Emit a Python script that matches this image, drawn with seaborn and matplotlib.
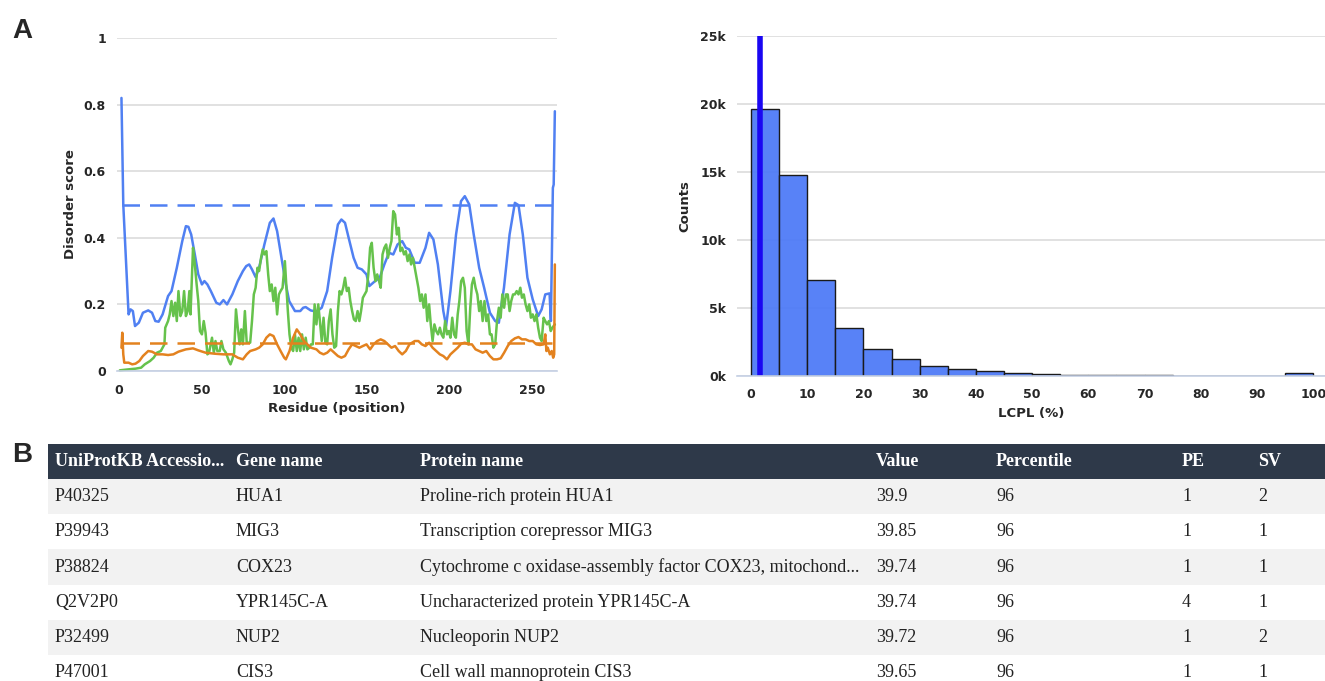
import matplotlib
matplotlib.use("Agg")
import matplotlib.pyplot as plt
import seaborn as sns
import pandas as pd

# --- Panel A, left: disorder profile (residue, score) ---
blue_res = [1.5, 2.6, 5.8, 7, 8.4, 9.7, 12, 14.5, 17.7, 20, 22, 24, 26.4, 29.7, 31.8, 35, 38.3, 40.5, 42,
            43.7, 45.9, 48, 50.2, 51.7, 53.5, 55.6, 58.9, 61, 63.2, 65.4, 68.6, 71.9, 75, 77, 78.8, 80.5,
            82.7, 84.8, 88, 91.3, 93.5, 95.7, 99, 101, 103, 106.5, 109.7, 111.5, 113, 116, 119.5, 122.7,
            126, 129, 132.5, 134.6, 136.8, 139, 142, 144.4, 147, 149.8, 151.5, 155, 157.8, 160.6, 163.4,
            166, 168.6, 171.4, 173.6, 175.7, 179, 182, 185.5, 187.7, 190.3, 193, 196.3, 198, 200.6, 204,
            207, 209.3, 212, 214.7, 218, 221, 224.5, 227.7, 229.9, 233, 236.4, 239.6, 241.8, 244.4,
            247.2, 250.4, 253.7, 255.8, 258, 260.6, 261.4, 262.6, 263.1, 263.8]
blue_score = [0.82, 0.50, 0.17, 0.185, 0.18, 0.135, 0.145, 0.175, 0.182, 0.175, 0.15, 0.148, 0.17, 0.225,
              0.24, 0.31, 0.39, 0.435, 0.433, 0.41, 0.35, 0.29, 0.26, 0.27, 0.26, 0.24, 0.205, 0.20, 0.213,
              0.20, 0.23, 0.27, 0.30, 0.315, 0.32, 0.305, 0.282, 0.31, 0.38, 0.445, 0.458, 0.42, 0.32, 0.26,
              0.21, 0.18, 0.18, 0.19, 0.192, 0.182, 0.178, 0.19, 0.24, 0.34, 0.44, 0.455, 0.445, 0.40, 0.34,
              0.31, 0.305, 0.29, 0.255, 0.27, 0.28, 0.32, 0.355, 0.35, 0.38, 0.39, 0.37, 0.365, 0.325, 0.325,
              0.37, 0.415, 0.395, 0.32, 0.18, 0.135, 0.24, 0.41, 0.51, 0.525, 0.50, 0.41, 0.31, 0.25, 0.175,
              0.15, 0.145, 0.25, 0.41, 0.505, 0.498, 0.41, 0.28, 0.215, 0.165, 0.185, 0.23, 0.233, 0.15,
              0.55, 0.56, 0.78]

green_res = [0.5, 5.8, 10, 13.4, 15.6, 18.8, 21, 23, 25.3, 27.5, 28, 29.7, 30.7, 31.8, 32.9, 34, 35, 36,
             37.2, 38.3, 39.4, 40.5, 41.6, 42.6, 43.3, 44.8, 45.9, 47, 48, 49, 50.2, 51.3, 52.4, 53.5, 54.5,
             56.3, 57.4, 58.4, 59.5, 61, 62, 63.2, 64.7, 66.5, 67.5, 68.6, 69.7, 70.8, 71.9, 73, 74, 75, 76.2,
             77.3, 79.4, 80.5, 81.6, 82.7, 83.8, 84.8, 86, 87, 88, 89.2, 90.3, 91.3, 92.4, 93.5, 94.6, 95.7,
             96.8, 97.8, 99, 100.4, 101, 102.2, 103.2, 104.3, 105.4, 106.5, 107.6, 108.7, 109.7, 110.8,
             111.9, 113, 114, 115.2, 116.2, 117.3, 118.4, 119.5, 120.6, 121.6, 122.7, 123.8, 124.9, 126,
             127, 128.1, 129.2, 130.3, 131.4, 132.5, 133.5, 134.6, 135.7, 136.8, 137.9, 139, 140, 141.1,
             142.2, 143.3, 144.4, 145.5, 146.5, 147.6, 148.7, 149.8, 150.9, 152, 153, 154.1, 155.2, 156.3,
             157.4, 158.4, 159.5, 160.6, 161.7, 162.8, 163.9, 164.9, 166, 167.1, 168.2, 169.3, 170.3, 171.4,
             172.5, 173.6, 174.7, 175.8, 176.8, 177.9, 179, 180.1, 181.2, 182.3, 183.3, 184.4, 185.5, 186.6,
             187.7, 188.7, 189.8, 190.9, 192, 193.1, 194.2, 195.2, 196.3, 197.4, 198.5, 199.6, 200.6, 201.7,
             202.8, 203.9, 205, 206, 207.1, 208.2, 209.3, 210.4, 211.5, 212.6, 213.6, 214.7, 215.8, 216.9,
             218, 219, 220.1, 221.2, 222.3, 223.4, 224.5, 225.5, 226.6, 227.7, 228.8, 229.9, 231, 232,
             233.1, 234.2, 235.3, 236.4, 237.4, 238.5, 239.6, 240.7, 241.8, 242.9, 243.9, 245, 246.1,
             247.2, 248.3, 249.3, 250.4, 251.5, 252.6, 253.7, 254.8, 255.8, 257, 258, 259.1, 260.2, 261.3,
             262.3, 263.8]
green_score = [0.002, 0.005, 0.007, 0.01, 0.02, 0.03, 0.04, 0.055, 0.06, 0.08, 0.13, 0.15, 0.17, 0.21, 0.165,
               0.205, 0.15, 0.24, 0.165, 0.18, 0.24, 0.165, 0.18, 0.24, 0.17, 0.37, 0.32, 0.26, 0.21, 0.12,
               0.11, 0.15, 0.115, 0.05, 0.055, 0.10, 0.055, 0.09, 0.06, 0.06, 0.09, 0.065, 0.055, 0.03, 0.02,
               0.035, 0.055, 0.185, 0.13, 0.08, 0.125, 0.08, 0.18, 0.085, 0.085, 0.15, 0.23, 0.25, 0.31, 0.30,
               0.34, 0.365, 0.35, 0.36, 0.29, 0.24, 0.26, 0.21, 0.25, 0.17, 0.23, 0.24, 0.25, 0.33, 0.28,
               0.18, 0.11, 0.07, 0.06, 0.11, 0.06, 0.10, 0.06, 0.11, 0.065, 0.10, 0.065, 0.07, 0.08, 0.08,
               0.20, 0.14, 0.20, 0.15, 0.09, 0.16, 0.085, 0.08, 0.15, 0.185, 0.11, 0.07, 0.075, 0.18, 0.24,
               0.23, 0.25, 0.28, 0.24, 0.25, 0.21, 0.18, 0.155, 0.15, 0.18, 0.15, 0.18, 0.22, 0.23, 0.24,
               0.29, 0.37, 0.385, 0.31, 0.27, 0.29, 0.27, 0.25, 0.35, 0.37, 0.38, 0.34, 0.37, 0.39, 0.48,
               0.47, 0.41, 0.43, 0.36, 0.37, 0.35, 0.36, 0.33, 0.35, 0.32, 0.34, 0.31, 0.28, 0.25, 0.21,
               0.23, 0.19, 0.23, 0.15, 0.20, 0.14, 0.09, 0.14, 0.12, 0.11, 0.13, 0.11, 0.10, 0.15, 0.11,
               0.12, 0.10, 0.16, 0.11, 0.10, 0.17, 0.21, 0.27, 0.28, 0.25, 0.12, 0.08, 0.19, 0.26, 0.28,
               0.25, 0.23, 0.18, 0.21, 0.15, 0.21, 0.15, 0.17, 0.11, 0.11, 0.07, 0.08, 0.15, 0.19, 0.16,
               0.23, 0.19, 0.23, 0.23, 0.18, 0.21, 0.23, 0.23, 0.24, 0.23, 0.25, 0.22, 0.23, 0.20, 0.18,
               0.20, 0.16, 0.17, 0.15, 0.17, 0.13, 0.10, 0.09, 0.16, 0.15, 0.14, 0.15, 0.12, 0.13, 0.14]

orange_res = [1.5, 2, 2.6, 3.2, 5.8, 8, 10, 12.3, 14.5, 17.7, 20, 23, 26.4, 29.7, 32.9, 36, 40.5, 44.8, 48,
              52.4, 57.8, 63.2, 68.6, 71.9, 75, 77.3, 79.4, 82.7, 84.8, 87, 89.2, 91.3, 93.5, 95.7, 97.8,
              100, 101, 103.2, 105.4, 107.6, 109.7, 111.9, 114, 116.2, 119.5, 121.6, 123.8, 126, 128.1,
              130.3, 132.5, 134.6, 136.8, 139, 141.1, 143.3, 145.5, 147.6, 149.8, 152, 154.1, 156.3, 158.4,
              160.6, 162.8, 164.9, 167.1, 169.3, 171.4, 173.6, 175.8, 179, 181.2, 183.3, 185.5, 187.7,
              189.8, 192, 194.2, 196.3, 198.5, 200.6, 202.8, 205, 207.1, 209.3, 211.5, 213.6, 215.8, 218,
              220.1, 222.3, 224.5, 226.6, 228.8, 231, 233.1, 235.3, 237.4, 239.6, 241.8, 243.9, 246.1,
              248.3, 250.4, 252.6, 254.8, 257, 258, 258.7, 259.5, 260.8, 261.9, 262.8, 263.4, 263.8]
orange_score = [0.07, 0.115, 0.05, 0.025, 0.025, 0.02, 0.022, 0.03, 0.045, 0.06, 0.058, 0.05, 0.05, 0.048,
                0.05, 0.058, 0.065, 0.068, 0.062, 0.055, 0.052, 0.05, 0.05, 0.04, 0.035, 0.05, 0.06, 0.065,
                0.07, 0.08, 0.10, 0.11, 0.105, 0.08, 0.06, 0.04, 0.035, 0.06, 0.10, 0.125, 0.11, 0.09, 0.08,
                0.07, 0.065, 0.055, 0.05, 0.055, 0.065, 0.055, 0.045, 0.04, 0.045, 0.065, 0.08, 0.075, 0.07,
                0.075, 0.08, 0.065, 0.08, 0.09, 0.095, 0.09, 0.08, 0.07, 0.075, 0.06, 0.05, 0.06, 0.08, 0.09,
                0.09, 0.08, 0.075, 0.085, 0.07, 0.06, 0.05, 0.045, 0.035, 0.05, 0.06, 0.07, 0.082, 0.085,
                0.08, 0.08, 0.065, 0.06, 0.055, 0.06, 0.045, 0.035, 0.035, 0.038, 0.055, 0.075, 0.09, 0.098,
                0.102, 0.095, 0.095, 0.09, 0.09, 0.08, 0.078, 0.08, 0.11, 0.06, 0.07, 0.05, 0.06, 0.04, 0.05,
                0.32]

blue_cutoff = 0.50
orange_cutoff = 0.085
cutoff_span = [2, 264]

# --- Panel A, right: LCPL histogram ---
lcpl_edges = [0, 5, 10, 15, 20, 25, 30, 35, 40, 45, 50, 55, 60, 65, 70, 75, 80, 85, 90, 95, 100]
lcpl_counts = [19600, 14750, 7050, 3550, 2000, 1250, 750, 500, 350, 250, 180, 100, 100, 100, 100,
               0, 0, 0, 0, 250]
query_lcpl = 1.6

# --- Panel B: table ---
headers = ["UniProtKB Accessio...", "Gene name", "Protein name", "Value", "Percentile", "PE", "SV"]
accessions = ["P40325", "P39943", "P38824", "Q2V2P0", "P32499", "P47001"]
genes = ["HUA1", "MIG3", "COX23", "YPR145C-A", "NUP2", "CIS3"]
proteins = ["Proline-rich protein HUA1", "Transcription corepressor MIG3",
            "Cytochrome c oxidase-assembly factor COX23, mitochond...",
            "Uncharacterized protein YPR145C-A", "Nucleoporin NUP2", "Cell wall mannoprotein CIS3"]
values = ["39.9", "39.85", "39.74", "39.74", "39.72", "39.65"]
percentiles = ["96", "96", "96", "96", "96", "96"]
pe = ["1", "1", "1", "4", "1", "1"]
sv = ["2", "1", "1", "1", "2", "1"]

BLUE = "#5080f2"
GREEN = "#66c24c"
ORANGE = "#e3821f"
GRID = "#dcdcdc"
AXIS = "#c5d0e4"

sns.set_theme(style="white")
plt.rcParams["font.family"] = ["DejaVu Sans"]

W, H = 1325, 681
fig = plt.figure(figsize=(W / 100, H / 100), dpi=100)


def px_axes(left, top, right, bottom):
    return fig.add_axes([left / W, 1 - bottom / H, (right - left) / W, (bottom - top) / H])


def style_axes(ax):
    for s in ["top", "right", "left"]:
        ax.spines[s].set_visible(False)
    ax.spines["bottom"].set_color(AXIS)
    ax.spines["bottom"].set_linewidth(1.2)
    ax.yaxis.grid(True, color=GRID, linewidth=1.2)
    ax.xaxis.grid(False)
    ax.set_axisbelow(True)
    ax.tick_params(axis="x", direction="out", length=6, width=1.2, color=AXIS, pad=3,
                   labelsize=9)
    ax.tick_params(axis="y", length=0, pad=8, labelsize=9)
    for lab in ax.get_xticklabels() + ax.get_yticklabels():
        lab.set_fontweight("bold")


# left line chart
ax1 = px_axes(117, 38, 557, 371)
lw = 1.8
sns.lineplot(x=blue_res, y=blue_score, color=BLUE, lw=lw, ax=ax1, estimator=None, sort=False)
sns.lineplot(x=green_res, y=green_score, color=GREEN, lw=lw, ax=ax1, estimator=None, sort=False)
sns.lineplot(x=orange_res, y=orange_score, color=ORANGE, lw=lw, ax=ax1, estimator=None, sort=False)
ax1.plot(cutoff_span, [blue_cutoff] * 2, color=BLUE, lw=1.8, dashes=(7, 4))
ax1.plot(cutoff_span, [orange_cutoff] * 2, color=ORANGE, lw=1.8, dashes=(7, 4))
for ln in ax1.lines:
    ln.set_clip_on(False)
ax1.set_xlim(-1.2, 265.1)
ax1.set_ylim(0, 1)
ax1.set_xticks([0, 50, 100, 150, 200, 250])
ax1.set_yticks([0, 0.2, 0.4, 0.6, 0.8, 1])
ax1.set_yticklabels(["0", "0.2", "0.4", "0.6", "0.8", "1"])
style_axes(ax1)
ax1.set_xlabel("Residue (position)", fontsize=9.5, fontweight="bold", labelpad=4)
ax1.set_ylabel("Disorder score", fontsize=9.5, fontweight="bold", labelpad=5)

# right histogram
ax2 = px_axes(737, 36, 1325, 376)
centers = [(a + b) / 2 for a, b in zip(lcpl_edges[:-1], lcpl_edges[1:])]
hist_df = pd.DataFrame({"lcpl": centers, "count": lcpl_counts})
sns.histplot(data=hist_df, x="lcpl", weights="count", bins=lcpl_edges, color="#4f7bf7",
             alpha=0.95, edgecolor="#1a1a1a", linewidth=1.0, ax=ax2)
ax2.axvline(query_lcpl, color="#1a06f2", lw=4, ymax=1)
ax2.set_xlim(-2.5, 102.1)
ax2.set_ylim(0, 25000)
ax2.set_xticks(range(0, 101, 10))
ax2.set_yticks([0, 5000, 10000, 15000, 20000, 25000])
ax2.set_yticklabels(["0k", "5k", "10k", "15k", "20k", "25k"])
style_axes(ax2)
ax2.set_xlabel("LCPL (%)", fontsize=9.5, fontweight="bold", labelpad=4)
ax2.set_ylabel("Counts", fontsize=9.5, fontweight="bold", labelpad=6)

# table
ax3 = px_axes(48, 444, 1325, 690)
ax3.axis("off")
rows = [list(r) for r in zip(accessions, genes, proteins, values, percentiles, pe, sv)]
col_px = [181, 184, 456, 120, 186, 76, 74]
tbl = ax3.table(cellText=rows, colLabels=headers, colWidths=[c / sum(col_px) for c in col_px],
                cellLoc="left", colLoc="left", bbox=[0, 0, 1, 1])
tbl.auto_set_font_size(False)
for (r, c), cell in tbl.get_celld().items():
    cell.set_linewidth(0)
    cell.PAD = 7 / col_px[c]
    txt = cell.get_text()
    txt.set_fontfamily("Liberation Serif")
    txt.set_fontsize(13)
    if r == 0:
        cell.set_facecolor("#2e3949")
        txt.set_color("white")
        txt.set_fontweight("bold")
    else:
        cell.set_facecolor("#f2f2f2" if r % 2 == 1 else "white")
        txt.set_color("#222222")

fig.text(12 / W, 1 - 31 / H, "A", fontsize=20, fontweight="bold", family="Liberation Sans",
         va="center", ha="left")
fig.text(12 / W, 1 - 455 / H, "B", fontsize=20, fontweight="bold", family="Liberation Sans",
         va="center", ha="left")

fig.savefig("out.png", dpi=100)
